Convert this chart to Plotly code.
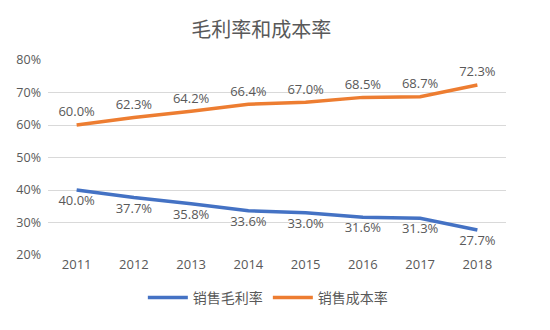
import plotly.graph_objects as go

years = ["2011", "2012", "2013", "2014", "2015", "2016", "2017", "2018"]
gross_margin = [40.0, 37.7, 35.8, 33.6, 33.0, 31.6, 31.3, 27.7]
cost_ratio = [60.0, 62.3, 64.2, 66.4, 67.0, 68.5, 68.7, 72.3]
y_ticks = [20, 30, 40, 50, 60, 70, 80]

FONT = "Open Sans, Noto Sans CJK SC, sans-serif"
GREY = "#595959"
# invisible markers only serve to space the value labels off the lines
HIDDEN = dict(size=7, color="rgba(0,0,0,0)")

fig = go.Figure()
fig.add_trace(go.Scatter(
    x=years, y=gross_margin, name="销售毛利率", mode="lines+markers+text",
    line=dict(color="#4472C4", width=3.5), marker=HIDDEN,
    text=[f"{v:.1f}%" for v in gross_margin], textposition="bottom center",
    textfont=dict(size=13, color=GREY, family=FONT),
))
fig.add_trace(go.Scatter(
    x=years, y=cost_ratio, name="销售成本率", mode="lines+markers+text",
    line=dict(color="#ED7D31", width=3.5), marker=HIDDEN,
    text=[f"{v:.1f}%" for v in cost_ratio], textposition="top center",
    textfont=dict(size=13, color=GREY, family=FONT),
))

fig.update_layout(
    width=550, height=330,
    margin=dict(l=48, r=44, t=60, b=75),
    paper_bgcolor="white", plot_bgcolor="white",
    font=dict(family=FONT, color=GREY, size=12),
    title=dict(text="毛利率和成本率", x=0.475, xanchor="center", y=0.91, yanchor="middle",
               font=dict(size=20, color=GREY, family=FONT)),
    xaxis=dict(type="category", range=[-0.5, 7.5], showgrid=False, showline=False,
               ticks="", tickfont=dict(size=13, color=GREY)),
    yaxis=dict(range=[20, 80], tickvals=y_ticks, ticktext=[f"{v}%" for v in y_ticks],
               showgrid=True, gridcolor="#D9D9D9", gridwidth=1, zeroline=False,
               showline=False, ticks="", ticklabelstandoff=6,
               tickfont=dict(size=12.5, color=GREY)),
    legend=dict(orientation="h", x=0.48, xanchor="center", y=-0.22, yanchor="middle",
                font=dict(size=14, color=GREY, family=FONT), itemwidth=40),
    showlegend=True,
)

fig.write_html("out.html")
